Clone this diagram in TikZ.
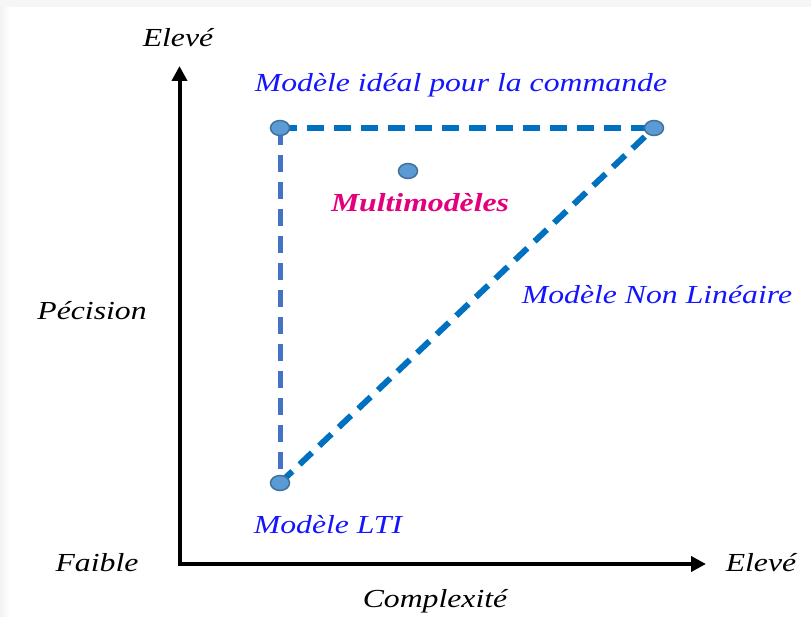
\documentclass[tikz,border=0pt]{standalone}
\usepackage{fontspec}
\setmainfont{Liberation Serif}[FakeStretch=1.22]
\usetikzlibrary{arrows.meta,shapes.geometric,backgrounds}
\definecolor{dashblue}{RGB}{0,112,192}
\definecolor{vblue}{RGB}{68,114,196}
\definecolor{dotfill}{RGB}{91,155,213}
\definecolor{dotline}{RGB}{65,113,156}
\definecolor{txtblue}{RGB}{20,20,255}
\definecolor{pinkm}{RGB}{228,0,124}
\tikzset{
  axis/.style={line width=4pt, black, line join=miter, {Triangle[length=15pt,width=15pt]}-{Triangle[length=15pt,width=15pt]}},
  dline/.style={line width=6pt, dash pattern=on 17pt off 10pt},
  dot/.style={ellipse, draw=dotline, fill=dotfill, line width=1.5pt, minimum width=19pt, minimum height=15pt, inner sep=0pt},
  lab/.style={font=\fontsize{26}{30}\selectfont\itshape, text=black, inner sep=0pt},
  blab/.style={font=\fontsize{26}{30}\selectfont\itshape, text=txtblue, inner sep=0pt},
}
\begin{document}
\begin{tikzpicture}[x=1pt,y=-1pt]
\useasboundingbox (0,0) rectangle (811,617);
\fill[gray!7] (0,0) rectangle (811,7);
\shade[left color=gray!10, right color=white] (0,7) rectangle (10,617);
% axes
\coordinate (ytip) at (179.5,66);
\coordinate (xtip) at (706,564);
\draw[axis] (ytip) |- (xtip);
% points
\node[dot] (A) at (280,128) {};
\node[dot] (B) at (654,128) {};
\node[dot] (C) at (280,483) {};
\node[dot] (M) at (408,171) {};
\begin{scope}[on background layer]
\draw[dline, dashblue] (A.center) -- (B.center);
\draw[dline, vblue, line width=5pt] (A.center) -- (C.center);
\draw[dline, dashblue] (C.center) -- (B.center);
\end{scope}
% labels
\node[lab] (ytop) at (178,38) {Elevé};
\node[lab] (xright) at (761,563) {Elevé};
\node[lab] (faible) at (97,563) {Faible};
\node[lab] (prec) at (92,311) {Pécision};
\node[lab] (comp) at (435,601) {Complexité};
\node[blab] (ideal) at (461,85) {Modèle idéal pour la commande};
\node[font=\fontsize{26}{30}\selectfont\bfseries\itshape, text=pinkm, inner sep=0pt] (multi) at (420,203) {Multimodèles};
\node[blab] (nl) at (657,295) {Modèle Non Linéaire};
\node[blab] (lti) at (328,525) {Modèle LTI};
\end{tikzpicture}
\end{document}
